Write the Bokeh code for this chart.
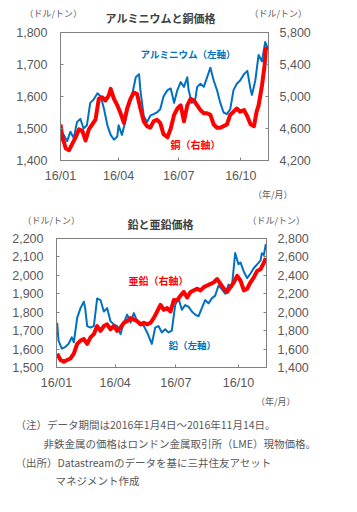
from bokeh.plotting import figure
from bokeh.models import Range1d, LinearAxis, FixedTicker, NumeralTickFormatter, Label, Title
from bokeh.core.properties import value
from bokeh.embed import file_html
from bokeh.resources import INLINE

FONT = "Noto Sans CJK JP"
NUMFONT = "Liberation Sans"
BLUE = "#0070C0"
RED = "#FF0000"
GRAY = "#595959"
DARK = "#404040"

month_ticks = [0, 88, 179, 273]
month_labels = ["16/01", "16/04", "16/07", "16/10"]

al_day = [0, 5, 10, 15, 20, 25, 30, 35, 40, 45, 50, 56, 61, 66, 71, 76, 81, 86, 88, 93, 98, 103, 109, 114,
          119, 121, 126, 131, 136, 141, 146, 151, 156, 162, 167, 172, 177, 182, 187, 192, 194, 199, 204,
          207, 212, 217, 222, 227, 232, 237, 242, 247, 252, 257, 262, 267, 272, 278, 283, 288, 290, 295,
          300, 305, 310, 314]
al_val = [1460, 1480, 1460, 1490, 1470, 1520, 1530, 1500, 1510, 1580, 1590, 1610, 1600, 1560, 1510, 1480,
          1465, 1475, 1510, 1480, 1520, 1580, 1610, 1660, 1670, 1620, 1540, 1520, 1540, 1545, 1550, 1560,
          1600, 1620, 1625, 1580, 1620, 1645, 1630, 1660, 1620, 1580, 1590, 1630, 1640, 1630, 1660, 1690,
          1650, 1620, 1580, 1550, 1545, 1560, 1620, 1640, 1650, 1670, 1680, 1620, 1605, 1650, 1730, 1710,
          1770, 1750]
cu_day = [0, 3, 8, 13, 18, 23, 28, 33, 38, 43, 48, 53, 58, 63, 68, 73, 76, 81, 86, 91, 96, 101, 106, 111,
          116, 121, 126, 131, 136, 141, 146, 151, 156, 162, 167, 172, 177, 182, 187, 192, 197, 202, 207,
          212, 217, 222, 227, 232, 237, 242, 247, 252, 257, 262, 267, 272, 278, 283, 288, 293, 297, 300,
          305, 309, 311, 314]
cu_val = [4650, 4490, 4350, 4330, 4410, 4490, 4590, 4570, 4450, 4590, 4650, 4710, 4970, 4990, 4950, 5010,
          5095, 4970, 4890, 4790, 4670, 4850, 4970, 5050, 5030, 4850, 4690, 4630, 4610, 4690, 4710, 4670,
          4530, 4490, 4600, 4770, 4850, 4890, 4690, 4890, 4970, 4950, 4890, 4830, 4790, 4790, 4770, 4650,
          4610, 4610, 4630, 4650, 4770, 4810, 4850, 4810, 4830, 4750, 4650, 4630, 4810, 4890, 5130, 5380,
          5600, 5580]
pb_day = [1, 3, 8, 13, 18, 23, 26, 31, 36, 41, 43, 46, 51, 56, 61, 66, 71, 76, 81, 86, 91, 96, 101, 106,
          111, 116, 121, 126, 131, 136, 141, 143, 148, 153, 158, 163, 168, 173, 178, 183, 188, 193, 198,
          203, 208, 213, 218, 223, 228, 233, 238, 243, 248, 253, 258, 263, 268, 273, 276, 281, 286, 291,
          296, 301, 306, 308, 311, 314]
pb_val = [1743, 1646, 1602, 1611, 1628, 1664, 1637, 1769, 1822, 1857, 1822, 1725, 1716, 1725, 1875, 1866,
          1804, 1822, 1751, 1734, 1725, 1681, 1743, 1787, 1743, 1795, 1751, 1743, 1725, 1690, 1646, 1628,
          1716, 1725, 1690, 1707, 1690, 1700, 1839, 1875, 1813, 1839, 1830, 1804, 1787, 1778, 1822, 1866,
          1848, 1875, 1890, 1945, 1925, 1900, 1950, 1935, 2121, 2060, 2070, 2020, 1985, 2010, 2040, 2060,
          2080, 2120, 2110, 2170]
zn_day = [1, 6, 11, 16, 21, 26, 31, 36, 41, 46, 51, 56, 61, 66, 71, 76, 81, 86, 91, 96, 101, 106, 111, 116,
          121, 126, 131, 136, 141, 146, 151, 156, 161, 166, 171, 176, 181, 186, 191, 196, 201, 206, 211,
          216, 221, 226, 231, 236, 241, 246, 251, 256, 261, 266, 271, 276, 281, 286, 291, 296, 301, 306,
          311, 314]
zn_val = [1551, 1481, 1463, 1481, 1498, 1551, 1657, 1692, 1709, 1657, 1727, 1762, 1850, 1797, 1850, 1868,
          1815, 1850, 1797, 1833, 1885, 1903, 1938, 1920, 1903, 1868, 1885, 1868, 1885, 1938, 2008, 2079,
          2026, 2044, 2008, 2132, 2130, 2180, 2220, 2160, 2220, 2237, 2255, 2237, 2272, 2290, 2307, 2325,
          2360, 2307, 2255, 2220, 2272, 2325, 2395, 2343, 2237, 2255, 2325, 2378, 2448, 2466, 2536, 2589]

notes = ["（注）データ期間は2016年1月4日～2016年11月14日。",
         "非鉄金属の価格はロンドン金属取引所（LME）現物価格。",
         "（出所）Datastreamのデータを基に三井住友アセット",
         "マネジメント作成"]


def text_fig(height, items):
    """Text-only strip; its frame is the whole canvas, coordinates in pixels from the top-left."""
    f = figure(width=357, height=height, output_backend="svg", toolbar_location=None,
               x_range=Range1d(0, 357), y_range=Range1d(height, 0), x_axis_type=None, y_axis_type=None,
               min_border=0, min_border_left=0, min_border_right=0, min_border_top=0, min_border_bottom=0)
    f.grid.visible = False
    f.outline_line_color = None
    for (tx, ty, t, color, size, style, align) in items:
        f.text(x=[tx], y=[ty], text=[t], text_font=value(FONT), text_font_size=size, text_color=color,
               text_font_style=style, text_align=align, text_baseline="middle")
    return f


def make_chart(height, bl, br, bt, bb, ylim, yrlim, lticks, rticks, xunit_offset):
    p = figure(width=357, height=height, output_backend="svg", toolbar_location=None,
               x_range=Range1d(0, 315), y_range=Range1d(*ylim),
               min_border_left=bl, min_border_right=br, min_border_top=bt, min_border_bottom=bb)
    p.extra_y_ranges = {"r": Range1d(*yrlim)}
    p.add_layout(LinearAxis(y_range_name="r"), "right")
    p.xaxis.ticker = FixedTicker(ticks=month_ticks)
    p.xaxis.major_label_overrides = {t: s for t, s in zip(month_ticks, month_labels)}
    p.yaxis[0].ticker = FixedTicker(ticks=lticks)
    p.yaxis[1].ticker = FixedTicker(ticks=rticks)
    for ax in p.yaxis:
        ax.formatter = NumeralTickFormatter(format="0,0")
    for ax in p.axis:
        ax.axis_line_color = "#808080"
        ax.major_tick_line_color = "#808080"
        ax.major_tick_in = 3
        ax.major_tick_out = 0
        ax.minor_tick_line_color = None
        ax.major_label_text_font = NUMFONT
        ax.major_label_text_font_size = "12.5px"
        ax.major_label_text_color = GRAY
    p.xaxis.major_label_standoff = 8
    p.yaxis[0].major_label_standoff = 13
    p.yaxis[1].major_label_standoff = 11
    p.grid.visible = False
    p.outline_line_color = "#808080"
    p.add_layout(Title(text="（年/月）", align="right", offset=xunit_offset, text_font=FONT,
                       text_font_size="9px", text_color=GRAY, text_font_style="normal", standoff=0), "below")
    return p


def dlabel(p, text, px, py, fl, ft, fw, fh, ylim, color, size):
    x = (px - fl) / fw * 315.0
    y = ylim[1] - (py - ft) / fh * (ylim[1] - ylim[0])
    p.add_layout(Label(x=x, y=y, text=text, text_font=FONT, text_font_size=size, text_color=color,
                       text_font_style="bold", text_align="left", text_baseline="middle"))


# header 1 (page y 0-25)
h1 = text_fig(25, [
    (160, 17, "アルミニウムと銅価格", DARK, "11px", "bold", "center"),
    (24, 13, "（ドル/トン）", GRAY, "9px", "normal", "left"),
    (249, 13, "（ドル/トン）", GRAY, "9px", "normal", "left"),
])

# chart 1 (page y 25-200, frame 32-164)
ylim1 = (1400, 1800)
p1 = make_chart(175, 60, 89, 7, 36, ylim1, (4200, 5800),
                [1400, 1500, 1600, 1700, 1800], [4200, 4600, 5000, 5400, 5800], -24)
p1.line(al_day, al_val, color=BLUE, line_width=2, line_join="round")
p1.line(cu_day, cu_val, color=RED, line_width=4, line_join="round", y_range_name="r")
g1 = dict(fl=60, ft=32, fw=208, fh=132, ylim=ylim1)
dlabel(p1, "アルミニウム（左軸）", 140, 54, color=BLUE, size="9.5px", **g1)
dlabel(p1, "銅（右軸）", 170, 147, color=RED, size="10px", **g1)

# header 2 (page y 200-231)
h2 = text_fig(31, [
    (160, 23, "鉛と亜鉛価格", DARK, "11px", "bold", "center"),
    (22, 20, "（ドル/トン）", GRAY, "9px", "normal", "left"),
    (247, 20, "（ドル/トン）", GRAY, "9px", "normal", "left"),
])

# chart 2 (page y 231-407, frame 238-371)
ylim2 = (1500, 2200)
p2 = make_chart(176, 56, 91, 7, 36, ylim2, (1400, 2800),
                [1500, 1600, 1700, 1800, 1900, 2000, 2100, 2200],
                [1400, 1600, 1800, 2000, 2200, 2400, 2600, 2800], -29)
p2.line(pb_day, pb_val, color=BLUE, line_width=2, line_join="round")
p2.line(zn_day, zn_val, color=RED, line_width=4, line_join="round", y_range_name="r")
g2 = dict(fl=56, ft=238, fw=210, fh=133, ylim=ylim2)
dlabel(p2, "亜鉛（右軸）", 128, 281, color=RED, size="10px", **g2)
dlabel(p2, "鉛（左軸）", 168, 348, color=BLUE, size="9.5px", **g2)

# notes (page y 407-512)
nf = text_fig(105, [(x, y, t, GRAY, "10.5px", "normal", "left")
                    for x, y, t in zip([15, 43, 15, 55], [17, 36, 55, 73], notes)])

open("out.html", "w").write(file_html([h1, p1, h2, p2, nf], INLINE))
